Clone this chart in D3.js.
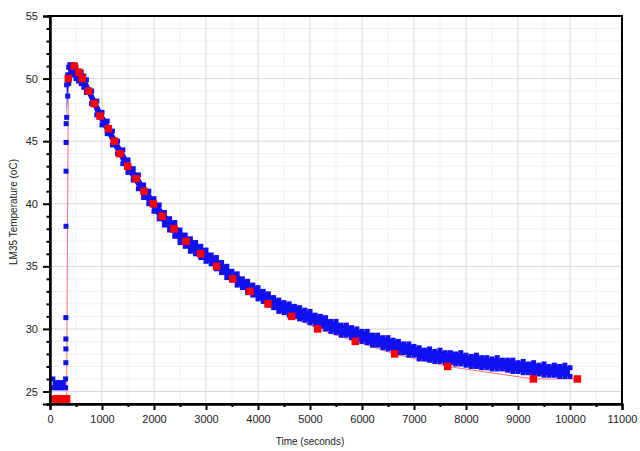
<!DOCTYPE html>
<html>
<head>
<meta charset="utf-8">
<script src="https://cdn.jsdelivr.net/npm/d3@7"></script>
<style>
  body { margin: 0; background: #fff; }
  svg text { font-family: "Liberation Sans", Arial, sans-serif; fill: #222; }
</style>
</head>
<body>
<svg id="chart" width="640" height="451"></svg>
<script>
// axis ticks
const timeTicks = [0, 1000, 2000, 3000, 4000, 5000, 6000, 7000, 8000, 9000, 10000, 11000];
const timeMinor = [500, 1500, 2500, 3500, 4500, 5500, 6500, 7500, 8500, 9500, 10500];
const tempTicks = [25, 30, 35, 40, 45, 50, 55];
const tempMinor = [24, 26, 27, 28, 29, 31, 32, 33, 34, 36, 37, 38, 39, 41, 42, 43, 44, 46, 47, 48, 49, 51, 52, 53, 54];

// LM35 readings before the heater comes on (two levels of the ADC)
const baseTime = [55, 100, 150, 200, 250, 300];
const baseLow = [25.3, 25.3, 25.3, 25.3, 25.3, 25.3];
const baseHigh = [26.0, 25.7, 25.7, 25.7, 25.7, 26.0];

// single readings while it jumps up
const riseTime = [305, 305, 305, 305, 308, 308, 310, 310];
const riseTemp = [27.3, 28.4, 29.2, 30.9, 38.2, 42.6, 44.9, 46.4];

// the cooling band (lowest / highest reading around each time)
const bandTime = [320, 340, 360, 380, 400, 430, 460, 500, 550, 600, 650,
  700, 800, 900, 1000, 1100, 1200, 1300, 1400, 1500, 1600, 1700, 1800, 1900, 2000,
  2100, 2200, 2300, 2400, 2500, 2600, 2700, 2800, 2900, 3000, 3100, 3200, 3300, 3400,
  3500, 3600, 3700, 3800, 3900, 4000, 4100, 4200, 4300, 4400, 4500, 4600, 4700, 4800,
  4900, 5000, 5100, 5200, 5300, 5400, 5500, 5600, 5700, 5800, 5900, 6000, 6100, 6200,
  6300, 6400, 6500, 6600, 6700, 6800, 6900, 7000, 7100, 7200, 7300, 7400, 7500, 7600,
  7700, 7800, 7900, 8000, 8100, 8200, 8300, 8400, 8500, 8600, 8700, 8800, 8900, 9000,
  9100, 9200, 9300, 9400, 9500, 9600, 9700, 9800, 9900, 10000];
const bandLow = [46.9, 48.6, 49.6, 50.2, 50.4, 50.4, 50.3, 50.0, 49.8, 49.6, 49.3,
  48.9, 48.0, 47.1, 46.3, 45.6, 44.7, 44.0, 43.2, 42.5, 41.9, 41.2, 40.5, 40.0, 39.4,
  38.8, 38.3, 37.9, 37.4, 36.9, 36.6, 36.2, 36.0, 35.7, 35.4, 35.2, 34.8, 34.5, 34.1,
  33.9, 33.5, 33.3, 32.9, 32.7, 32.4, 32.2, 31.9, 31.7, 31.4, 31.3, 31.1, 31.0, 30.8,
  30.7, 30.5, 30.4, 30.2, 30.0, 29.8, 29.7, 29.5, 29.5, 29.3, 29.1, 29.0, 28.9, 28.7,
  28.7, 28.5, 28.4, 28.3, 28.1, 28.1, 27.9, 27.9, 27.6, 27.6, 27.5, 27.4, 27.4, 27.3,
  27.3, 27.2, 27.2, 27.1, 27.0, 27.0, 26.9, 26.9, 26.8, 26.8, 26.8, 26.7, 26.6, 26.6,
  26.5, 26.5, 26.4, 26.4, 26.3, 26.3, 26.3, 26.2, 26.2, 26.2];
const bandHigh = [49.5, 50.3, 50.9, 51.1, 51.1, 51.1, 51.0, 50.9, 50.6, 50.5, 50.2,
  49.9, 49.0, 48.2, 47.3, 46.6, 45.8, 45.0, 44.3, 43.5, 42.8, 42.3, 41.5, 41.0, 40.4,
  39.9, 39.3, 38.8, 38.5, 37.9, 37.5, 37.2, 36.9, 36.6, 36.3, 35.9, 35.7, 35.3, 35.0,
  34.6, 34.4, 34.0, 33.8, 33.5, 33.3, 33.0, 32.8, 32.5, 32.3, 32.1, 32.0, 31.8, 31.7,
  31.5, 31.4, 31.1, 31.0, 30.9, 30.6, 30.6, 30.3, 30.3, 30.1, 30.0, 29.8, 29.8, 29.5,
  29.5, 29.3, 29.3, 29.1, 29.0, 28.8, 28.8, 28.6, 28.5, 28.3, 28.4, 28.2, 28.3, 28.1,
  28.1, 28.0, 28.1, 27.9, 27.8, 27.9, 27.7, 27.7, 27.6, 27.7, 27.5, 27.5, 27.5, 27.3,
  27.4, 27.2, 27.3, 27.1, 27.2, 27.0, 27.1, 27.0, 27.1, 26.9];

// reference (red) readings
const refTime = [100, 140, 180, 220, 260, 300, 320, 352, 467, 558, 621, 743, 852, 962,
  1122, 1237, 1346, 1494, 1654, 1808, 1987, 2154, 2385, 2615, 2897, 3205, 3513, 3846,
  4192, 4647, 5147, 5871, 6628, 7647, 9295, 10141];
const refTemp = [24.4, 24.4, 24.4, 24.4, 24.4, 24.4, 24.4, 50, 51, 50.5, 50, 49, 48, 47,
  46, 45, 44, 43, 42, 41, 40, 39, 38, 37, 36, 35, 34, 33,
  32, 31, 30, 29, 28, 27, 26, 26];

const margin = { left: 50, right: 18, top: 16, bottom: 47 };
const W = 640, H = 451;

drawChart();

function drawChart() {
  const svg = d3.select("#chart");

  const x = d3.scaleLinear().domain([0, 11000]).range([margin.left, W - margin.right]);
  const y = d3.scaleLinear().domain([24, 55]).range([H - margin.bottom, margin.top]);

  const [x0, x1] = x.range();
  const [y0, y1] = y.range();

  // grid
  const grid = svg.append("g");
  grid.selectAll(".gxm").data(timeMinor).enter().append("line")
    .attr("x1", d => x(d)).attr("x2", d => x(d)).attr("y1", y0).attr("y2", y1)
    .attr("stroke", "#f1f1f1").attr("stroke-width", 1);
  grid.selectAll(".gym").data(tempMinor).enter().append("line")
    .attr("y1", d => y(d)).attr("y2", d => y(d)).attr("x1", x0).attr("x2", x1)
    .attr("stroke", "#f1f1f1").attr("stroke-width", 1);
  grid.selectAll(".gx").data(timeTicks).enter().append("line")
    .attr("x1", d => x(d)).attr("x2", d => x(d)).attr("y1", y0).attr("y2", y1)
    .attr("stroke", "#d9d9d9").attr("stroke-width", 1);
  grid.selectAll(".gy").data(tempTicks).enter().append("line")
    .attr("y1", d => y(d)).attr("y2", d => y(d)).attr("x1", x0).attr("x2", x1)
    .attr("stroke", "#d9d9d9").attr("stroke-width", 1);

  // red line under everything
  const refData = refTime.map((t, i) => ({ t, v: refTemp[i] }));
  svg.append("path")
    .datum(refData)
    .attr("fill", "none")
    .attr("stroke", "#ff6f6f")
    .attr("stroke-width", 1)
    .attr("d", d3.line().x(d => x(d.t)).y(d => y(d.v)));

  // blue readings
  const blue = "#1010f0";
  const base = baseTime.map((t, i) => ({ t, lo: baseLow[i], hi: baseHigh[i] }));
  const band = bandTime.map((t, i) => ({ t, lo: bandLow[i], hi: bandHigh[i] }));
  const area = d3.area().x(d => x(d.t)).y0(d => y(d.lo)).y1(d => y(d.hi));

  svg.append("path").datum(base).attr("fill", blue).attr("d", area);
  svg.append("path").datum(band).attr("fill", blue).attr("d", area);

  const pts = [];
  base.concat(band).forEach(d => {
    pts.push({ t: d.t, v: d.lo });
    pts.push({ t: d.t, v: d.hi });
  });
  riseTime.forEach((t, i) => pts.push({ t, v: riseTemp[i] }));

  const bs = 5;
  svg.append("g").selectAll("rect")
    .data(pts)
    .enter()
    .append("rect")
    .attr("x", d => x(d.t) - bs / 2)
    .attr("y", d => y(d.v) - bs / 2)
    .attr("width", bs)
    .attr("height", bs)
    .attr("fill", blue);

  // red squares
  const rs = 7.5;
  svg.append("g").selectAll("rect")
    .data(refData)
    .enter()
    .append("rect")
    .attr("x", d => x(d.t) - rs / 2)
    .attr("y", d => y(d.v) - rs / 2)
    .attr("width", rs)
    .attr("height", rs)
    .attr("fill", "#ff0000");

  // axes
  const xAxis = d3.axisBottom(x).tickValues(timeTicks).tickSize(6).tickPadding(5).tickFormat(d3.format("d"));
  const xMinor = d3.axisBottom(x).tickValues(timeMinor).tickSize(3).tickFormat("");
  const yAxis = d3.axisLeft(y).tickValues(tempTicks).tickSize(7).tickPadding(5);
  const yMinor = d3.axisLeft(y).tickValues(tempMinor).tickSize(3.5).tickFormat("");

  [xAxis, xMinor].forEach(a => {
    svg.append("g").attr("transform", `translate(0,${y0})`).call(a).call(styleAxis);
  });
  [yAxis, yMinor].forEach(a => {
    svg.append("g").attr("transform", `translate(${x0},0)`).call(a).call(styleAxis);
  });

  // frame
  svg.append("rect")
    .attr("x", x0).attr("y", y1)
    .attr("width", x1 - x0).attr("height", y0 - y1)
    .attr("fill", "none")
    .attr("stroke", "#000")
    .attr("stroke-width", 2);

  svg.append("text")
    .attr("x", 310)
    .attr("y", 445)
    .attr("text-anchor", "middle")
    .style("font-size", "10px")
    .text("Time (seconds)");

  svg.append("text")
    .attr("transform", "translate(17,212) rotate(-90)")
    .attr("text-anchor", "middle")
    .style("font-size", "10px")
    .text("LM35 Temperature (oC)");
}

function styleAxis(g) {
  g.select(".domain").attr("stroke", "#000").attr("stroke-width", 2);
  g.selectAll(".tick line").attr("stroke", "#000").attr("stroke-width", 2);
  g.selectAll(".tick text").style("font-size", "11px").attr("fill", "#222");
}
</script>
</body>
</html>
